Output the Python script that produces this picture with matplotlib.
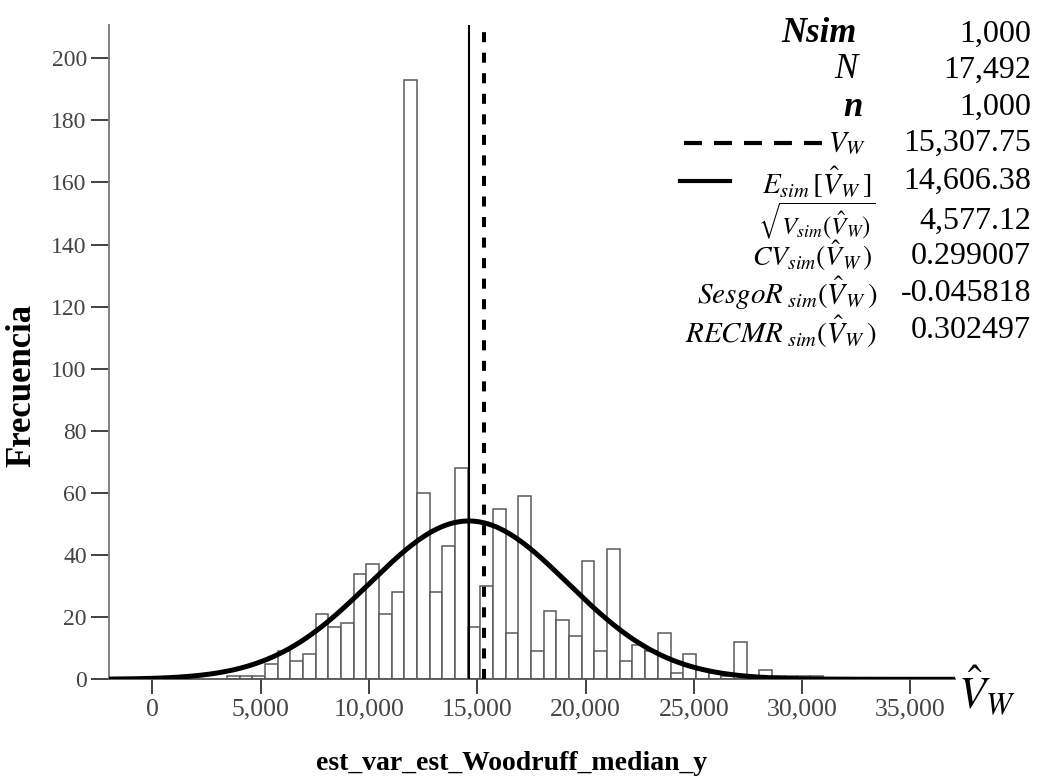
import numpy as np
import matplotlib
matplotlib.use('Agg')
from matplotlib import pyplot as plt
from matplotlib.lines import Line2D

# histogram of the simulated estimator (1,000 simulations)
bin_start = 3445.0
bin_width = 585.0
counts = [1, 1, 1,
          5, 9, 6, 8, 21, 17, 18, 34, 37, 21, 28,
          193, 60, 28, 43, 68, 17, 30, 55, 15, 59,
          9, 22, 19, 14, 38, 9, 42, 6, 11, 9, 15,
          2, 8, 3, 2, 1, 12, 1, 3, 1, 1, 1, 1]

n_sim = 1000
v_true = 15307.75
e_sim = 14606.38
sd_sim = 4577.12

x_ticks = [0, 5000, 10000, 15000, 20000, 25000, 30000, 35000]
y_ticks = list(range(0, 201, 20))

stat_labels = [r'Nsim', r'N', r'n',
               r'$V_{W}$',
               r'$E_{sim}\,[\hat{V}_{W}\,]$',
               r'$\sqrt{V_{sim}(\hat{V}_{W})}$',
               r'$CV_{sim}(\hat{V}_{W}\,)$',
               r'$SesgoR_{\ sim}(\hat{V}_{W}\,)$',
               r'$RECMR_{\ sim}(\hat{V}_{W}\,)$']
stat_values = ['1,000', '17,492', '1,000', '15,307.75', '14,606.38',
               '4,577.12', '0.299007', '-0.045818', '0.302497']


def main():
    plt.rcParams['font.family'] = ['Liberation Serif', 'DejaVu Serif']
    plt.rcParams['mathtext.fontset'] = 'stix'

    fig = plt.figure(figsize=(10.4, 7.79), dpi=100)
    W, H = 1040.0, 779.0
    ax = fig.add_axes([109 / W, 99.7 / H, (955 - 109) / W, (679.3 - 25) / H])

    edges = bin_start + bin_width * np.arange(len(counts))
    ax.bar(edges, counts, width=bin_width, align='edge', color='white',
           edgecolor='#5a5a5a', linewidth=1.1, zorder=2)

    # normal curve scaled to counts
    xs = np.linspace(-2004, 37055, 600)
    ys = n_sim * bin_width / (sd_sim * np.sqrt(2 * np.pi)) * \
        np.exp(-0.5 * ((xs - e_sim) / sd_sim) ** 2)
    ax.plot(xs, ys, color='black', linewidth=3.6, zorder=4,
            solid_capstyle='butt')

    ax.axvline(e_sim, color='black', linewidth=1.5, zorder=3)
    ax.axvline(v_true, color='black', linewidth=2.9, zorder=3,
               linestyle=(0, (2.5, 2.6)))

    ax.set_xlim(-2004, 37055)
    ax.set_ylim(0, 210.7)
    ax.set_xticks(x_ticks)
    ax.set_xticklabels([f'{t:,}' for t in x_ticks])
    ax.set_yticks(y_ticks)
    ax.tick_params(axis='x', length=11, width=1.3, color='#333333',
                   labelsize=18.5, labelcolor='#444444', pad=3)
    ax.tick_params(axis='y', length=13, width=1.3, color='#333333',
                   labelsize=17, labelcolor='#444444', pad=3)
    for side in ['top', 'right']:
        ax.spines[side].set_visible(False)
    ax.spines['left'].set_color('#777777')
    ax.spines['left'].set_linewidth(1.3)
    ax.spines['bottom'].set_color('#555555')
    ax.spines['bottom'].set_linewidth(1.3)

    fig.text(512 / W, 1 - 763 / H, 'est_var_est_Woodruff_median_y',
             fontsize=20, fontweight='bold', ha='center', va='center')
    fig.text(22 / W, 1 - 385 / H, 'Frecuencia', fontsize=25,
             fontweight='bold', rotation=90, ha='center', va='center')

    fig.text(958 / W, 1 - 690 / H, r'$\hat{V}_{W}$', fontsize=32,
             ha='left', va='center')

    # statistics panel
    rows_y = [34, 70, 107, 143, 181, 221, 256, 293, 331]
    label_right = [857, 857, 863, 866, 872, 875, 873, 877, 877]
    label_size = [25, 25, 25, 21, 21, 18, 20, 21, 21]
    for i, (lab, val) in enumerate(zip(stat_labels, stat_values)):
        y = 1 - rows_y[i] / H
        if i in (0, 2):
            fig.text(label_right[i] / W, y, lab, fontsize=label_size[i],
                     ha='right', va='center', style='italic',
                     fontweight='bold')
        elif i == 1:
            fig.text(label_right[i] / W, y, lab, fontsize=label_size[i],
                     ha='right', va='center', style='italic')
        else:
            fig.text(label_right[i] / W, y, lab, fontsize=label_size[i],
                     ha='right', va='center')
        fig.text(1031 / W, y, val, fontsize=23, ha='right', va='center')

    y_dash = 1 - 143 / H
    fig.add_artist(Line2D([684 / W, 822 / W], [y_dash, y_dash],
                          color='black', linewidth=3.0,
                          linestyle=(0, (4.3, 2.9))))
    y_solid = 1 - 181 / H
    fig.add_artist(Line2D([680 / W, 730 / W], [y_solid, y_solid],
                          color='black', linewidth=3.0))

    fig.savefig('out.png', dpi=100)


if __name__ == '__main__':
    main()
